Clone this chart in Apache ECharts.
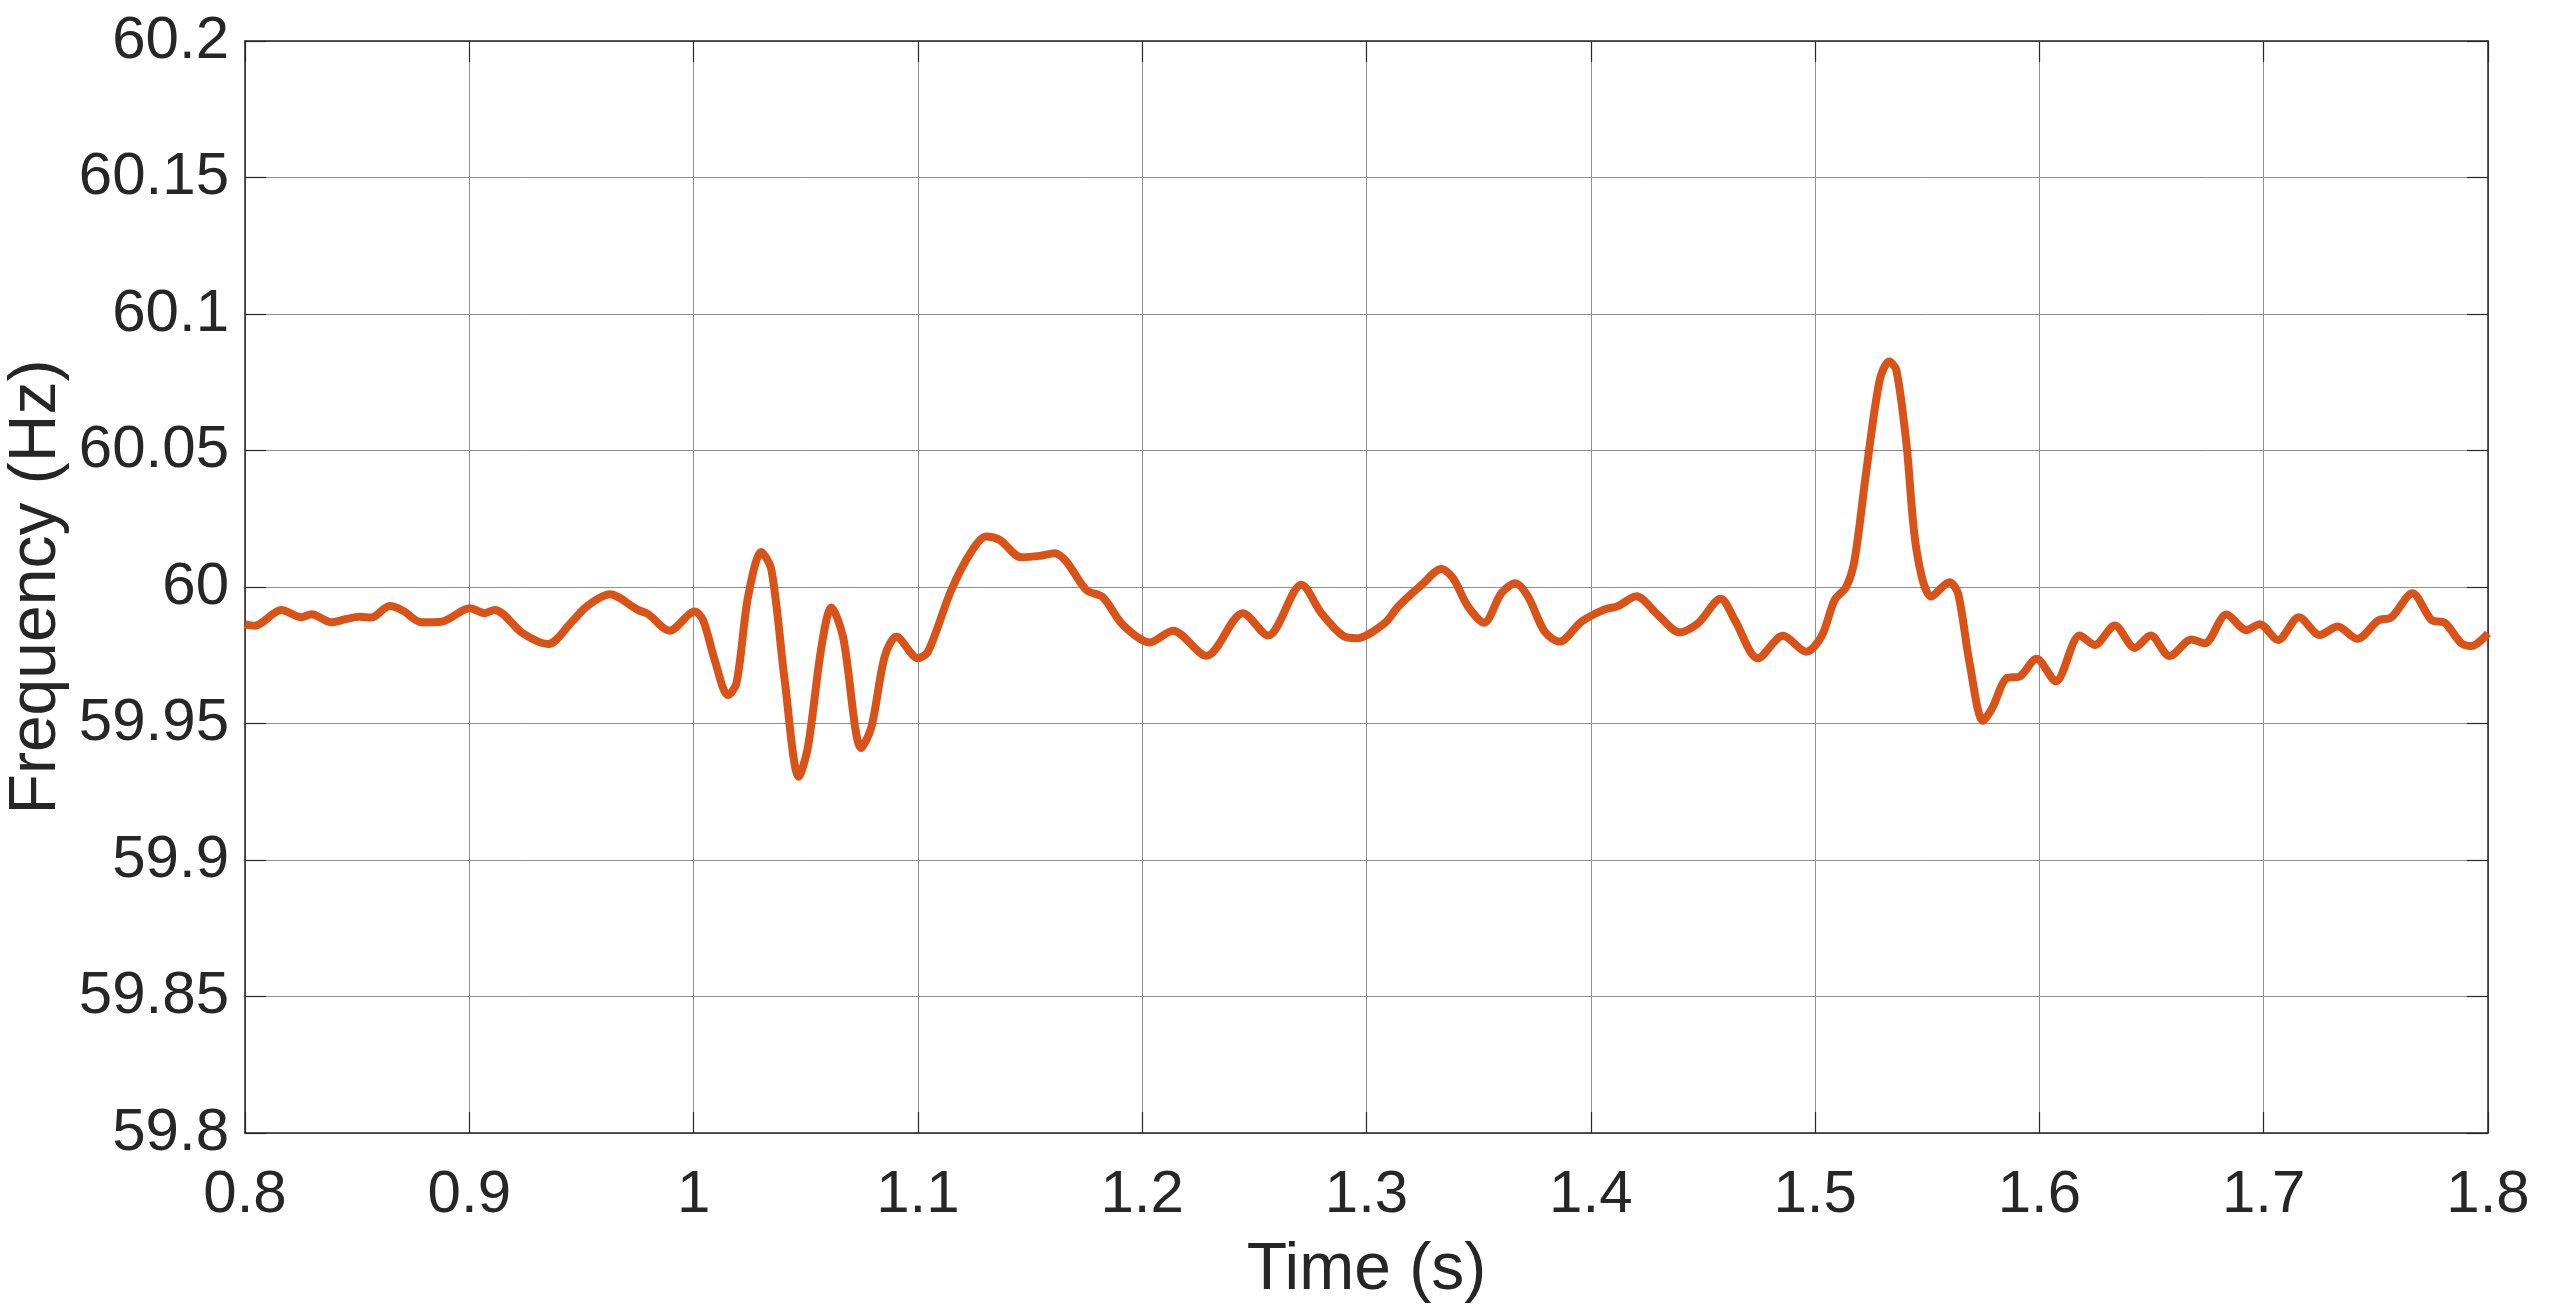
<!DOCTYPE html>
<html>
<head>
<meta charset="utf-8">
<title>Frequency</title>
<script src="https://cdn.jsdelivr.net/npm/echarts@6/dist/echarts.min.js"></script>
<style>
  html, body { margin: 0; padding: 0; background: #fff; }
  #chart { width: 2560px; height: 1315px; }
</style>
</head>
<body>
<div id="chart"></div>
<script>
// values
const timeS = [
  0.800, 0.8043, 0.8162, 0.8251, 0.8296, 0.8385, 0.8452, 0.8511, 0.8563, 0.8645,
  0.8704, 0.8786, 0.8876, 0.9002, 0.9069, 0.9113, 0.9239, 0.9351, 0.9462, 0.9522,
  0.9626, 0.9752, 0.9797, 0.9893, 1.0005, 1.0042, 1.0094, 1.0153, 1.0191, 1.0243,
  1.0302, 1.0347, 1.0406, 1.0469, 1.0510, 1.0570, 1.0614, 1.0666, 1.0748, 1.0793,
  1.0852, 1.0904, 1.1000, 1.1045, 1.1149, 1.1238, 1.1305, 1.1365, 1.1461, 1.1543,
  1.1610, 1.1662, 1.1751, 1.1825, 1.1914, 1.2033, 1.2137, 1.2286, 1.2449, 1.2561,
  1.2710, 1.2799, 1.2895, 1.2955, 1.3080, 1.3141, 1.3245, 1.3334, 1.3386, 1.3453,
  1.3524, 1.3601, 1.3664, 1.3720, 1.3794, 1.3861, 1.3958, 1.4062, 1.4121, 1.4203,
  1.4300, 1.4396, 1.4478, 1.4579, 1.4642, 1.4745, 1.4857, 1.4961, 1.5028, 1.5087,
  1.5139, 1.5176, 1.5229, 1.5288, 1.5330, 1.5362, 1.5407, 1.5452, 1.5518, 1.5600,
  1.5637, 1.5689, 1.5749, 1.5793, 1.5853, 1.5912, 1.5987, 1.6073, 1.6180, 1.6247,
  1.6336, 1.6425, 1.6496, 1.6581, 1.6678, 1.6737, 1.6834, 1.6923, 1.6982, 1.7064,
  1.7157, 1.7250, 1.7329, 1.7418, 1.7510, 1.7569, 1.7663, 1.7748, 1.7807, 1.7881,
  1.7926, 1.8000
]
const freqHz = [
  59.9863, 59.9858, 59.9916, 59.9889, 59.9900, 59.9871, 59.9883, 59.9891, 59.9888, 59.9930,
  59.9913, 59.9871, 59.9873, 59.9922, 59.9904, 59.9916, 59.9830, 59.9791, 59.9877, 59.9928,
  59.9973, 59.9916, 59.9901, 59.9840, 59.9910, 59.9879, 59.9733, 59.9604, 59.9647, 59.9965,
  60.0128, 60.0062, 59.9659, 59.9305, 59.9415, 59.9781, 59.9925, 59.9818, 59.9410, 59.9488,
  59.9745, 59.9818, 59.9739, 59.9763, 59.9989, 60.0129, 60.0185, 60.0172, 60.0109, 60.0114,
  60.0124, 60.0093, 59.9989, 59.9962, 59.9861, 59.9797, 59.9840, 59.9748, 59.9904, 59.9822,
  60.0008, 59.9904, 59.9821, 59.9812, 59.9867, 59.9928, 60.0007, 60.0066, 60.0032, 59.9928,
  59.9869, 59.9977, 60.0014, 59.9965, 59.9837, 59.9800, 59.9873, 59.9918, 59.9930, 59.9966,
  59.9897, 59.9834, 59.9867, 59.9957, 59.9879, 59.9739, 59.9821, 59.9763, 59.9818, 59.9952,
  60.0001, 60.0099, 60.0429, 60.0758, 60.0826, 60.0795, 60.0526, 60.0136, 59.9965, 60.0017,
  59.9977, 59.9720, 59.9510, 59.9562, 59.9666, 59.9672, 59.9737, 59.9655, 59.9822, 59.9788,
  59.9859, 59.9777, 59.9822, 59.9747, 59.9808, 59.9794, 59.9899, 59.9842, 59.9864, 59.9806,
  59.9889, 59.9824, 59.9855, 59.9810, 59.9877, 59.9889, 59.9977, 59.9879, 59.9869, 59.9794,
  59.9784, 59.9830
]
const xTicks = { min: 0.8, max: 1.8, step: 0.1 }
const yTicks = { min: 59.8, max: 60.2, step: 0.05 }

const ink = '#262626'
const font = '"Liberation Sans", Arial, sans-serif'
const fmt = v => String(+v.toFixed(2))

const chart = echarts.init(document.getElementById('chart'), null, { renderer: 'canvas' })

const tickStyle = { show: true, inside: true, length: 21, lineStyle: { color: ink, width: 1.2 } }
const lineStyle = { show: true, lineStyle: { color: ink, width: 1.5 } }

chart.setOption({
  animation: false,
  backgroundColor: '#fff',
  grid: { left: 245, right: 72, top: 41, bottom: 182, containLabel: false, outerBoundsMode: 'none' },
  xAxis: [
    {
      type: 'value', min: xTicks.min, max: xTicks.max, interval: xTicks.step,
      name: 'Time (s)', nameLocation: 'middle', nameGap: 105, nameMoveOverlap: false,
      nameTextStyle: { color: ink, fontSize: 66, fontFamily: font },
      axisLine: lineStyle, axisTick: tickStyle,
      axisLabel: { color: ink, fontSize: 60, fontFamily: font, margin: 32, formatter: fmt },
      splitLine: { show: true, lineStyle: { color: '#8f8f8f', width: 1 } },
    },
    {
      type: 'value', position: 'top', min: xTicks.min, max: xTicks.max, interval: xTicks.step,
      axisLine: lineStyle, axisTick: tickStyle, axisLabel: { show: false }, splitLine: { show: false },
    },
  ],
  yAxis: [
    {
      type: 'value', min: yTicks.min, max: yTicks.max, interval: yTicks.step,
      name: 'Frequency (Hz)', nameLocation: 'middle', nameGap: 175, nameMoveOverlap: false,
      nameTextStyle: { color: ink, fontSize: 66, fontFamily: font },
      axisLine: lineStyle, axisTick: tickStyle,
      axisLabel: { color: ink, fontSize: 60, fontFamily: font, margin: 16, formatter: fmt },
      splitLine: { show: true, lineStyle: { color: '#8f8f8f', width: 1 } },
    },
    {
      type: 'value', position: 'right', min: yTicks.min, max: yTicks.max, interval: yTicks.step,
      axisLine: lineStyle, axisTick: tickStyle, axisLabel: { show: false }, splitLine: { show: false },
    },
  ],
  series: [{
    type: 'line',
    data: timeS.map((t, i) => [t, freqHz[i]]),
    showSymbol: false,
    smooth: 0.3,
    lineStyle: { color: '#D95319', width: 8 },
    clip: true,
  }],
})
</script>
</body>
</html>
